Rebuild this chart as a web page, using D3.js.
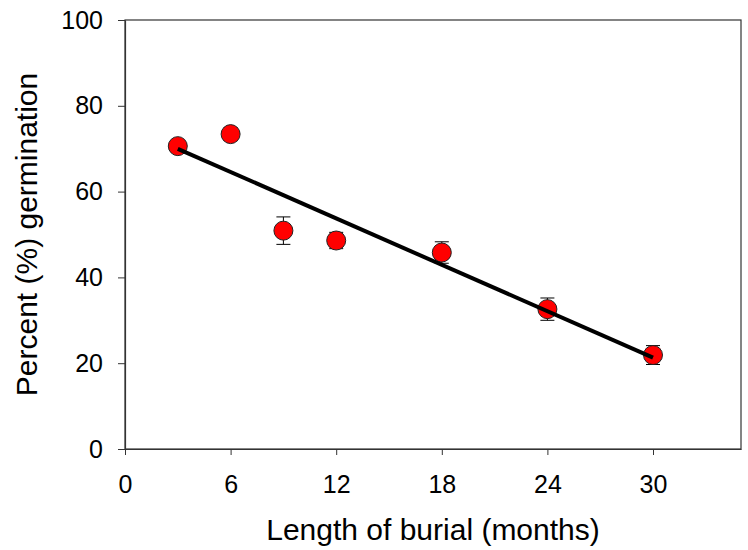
<!DOCTYPE html>
<html>
<head>
<meta charset="utf-8">
<script src="https://cdn.jsdelivr.net/npm/d3@7"></script>
<style>
  body { margin: 0; background: #fff; }
  text { font-family: "Liberation Sans", Arial, sans-serif; fill: #000; }
</style>
</head>
<body>
<svg id="chart" width="748" height="550"></svg>
<script>
// months of burial, mean germination %, and standard error
var months = [3, 6, 9, 12, 18, 24, 30]
var germination = [70.6, 73.4, 50.9, 48.6, 45.8, 32.6, 21.9]
var stdErr = [1.2, 1.5, 3.2, 1.9, 2.5, 2.6, 2.2]

var xTicks = [0, 6, 12, 18, 24, 30]
var yTicks = [0, 20, 40, 60, 80, 100]

var padding = {l: 125, r: 7, t: 20, b: 101}

var svg = d3.select('#chart')
var svgWidth = +svg.attr('width')
var svgHeight = +svg.attr('height')
var chartWidth = svgWidth - padding.l - padding.r
var chartHeight = svgHeight - padding.t - padding.b

var xScale = d3.scaleLinear().domain([0, 35]).range([0, chartWidth])
var yScale = d3.scaleLinear().domain([0, 100]).range([chartHeight, 0])

var data = months.map(function(m, i) {
  return {x: m, y: germination[i], se: stdErr[i]}
})

// least squares fit line
var mx = d3.mean(months), my = d3.mean(germination)
var sxy = d3.sum(data, function(d) { return (d.x - mx) * (d.y - my) })
var sxx = d3.sum(data, function(d) { return (d.x - mx) * (d.x - mx) })
var slope = sxy / sxx
var intercept = my - slope * mx
var fit = [d3.min(months), d3.max(months)].map(function(m) {
  return {x: m, y: intercept + slope * m}
})

var g = svg.append('g')
  .attr('transform', 'translate(' + padding.l + ',' + padding.t + ')')

// frame
g.append('rect')
  .attr('width', chartWidth)
  .attr('height', chartHeight)
  .attr('fill', 'none')
  .attr('stroke', '#333')
  .attr('stroke-width', 1.2)

var xAxis = g.append('g')
  .attr('transform', 'translate(0,' + chartHeight + ')')
  .call(d3.axisBottom(xScale).tickValues(xTicks).tickSize(6).tickPadding(20).tickSizeOuter(0))
xAxis.select('.domain').attr('stroke', '#333').attr('stroke-width', 1.2)
xAxis.selectAll('.tick line').attr('stroke', '#333')

var yAxis = g.append('g')
  .call(d3.axisLeft(yScale).tickValues(yTicks).tickSize(7).tickPadding(15).tickSizeOuter(0))
yAxis.select('.domain').attr('stroke', '#333').attr('stroke-width', 1.2)
yAxis.selectAll('.tick line').attr('stroke', '#333')

svg.selectAll('.tick text')
  .attr('font-family', null)
  .style('font-family', '"Liberation Sans", Arial, sans-serif')
  .style('font-size', '25px')

// error bars
var err = g.selectAll('.err')
  .data(data)
  .enter()
  .append('g')
  .attr('class', 'err')
  .attr('stroke', '#000')
  .attr('stroke-width', 1)

err.append('line')
  .attr('x1', function(d) { return xScale(d.x) })
  .attr('x2', function(d) { return xScale(d.x) })
  .attr('y1', function(d) { return yScale(d.y + d.se) })
  .attr('y2', function(d) { return yScale(d.y - d.se) })

err.append('line')
  .attr('x1', function(d) { return xScale(d.x) - 7 })
  .attr('x2', function(d) { return xScale(d.x) + 7 })
  .attr('y1', function(d) { return yScale(d.y + d.se) })
  .attr('y2', function(d) { return yScale(d.y + d.se) })

err.append('line')
  .attr('x1', function(d) { return xScale(d.x) - 7 })
  .attr('x2', function(d) { return xScale(d.x) + 7 })
  .attr('y1', function(d) { return yScale(d.y - d.se) })
  .attr('y2', function(d) { return yScale(d.y - d.se) })

// points
g.selectAll('circle')
  .data(data)
  .enter()
  .append('circle')
  .attr('cx', function(d) { return xScale(d.x) })
  .attr('cy', function(d) { return yScale(d.y) })
  .attr('r', 9.5)
  .attr('fill', '#ff0000')
  .attr('stroke', '#222')
  .attr('stroke-width', 1)

// regression line on top
g.append('path')
  .datum(fit)
  .attr('fill', 'none')
  .attr('stroke', '#000')
  .attr('stroke-width', 4)
  .attr('d', d3.line()
    .x(function(d) { return xScale(d.x) })
    .y(function(d) { return yScale(d.y) }))

// axis titles
svg.append('text')
  .attr('x', padding.l + chartWidth / 2)
  .attr('y', 540)
  .attr('text-anchor', 'middle')
  .style('font-size', '30px')
  .text('Length of burial (months)')

svg.append('text')
  .attr('transform', 'translate(37,' + (padding.t + chartHeight / 2) + ') rotate(-90)')
  .attr('text-anchor', 'middle')
  .style('font-size', '30px')
  .text('Percent (%) germination')
</script>
</body>
</html>
